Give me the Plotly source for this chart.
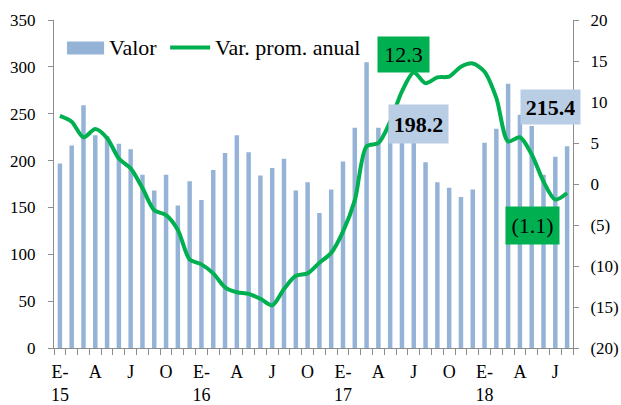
import plotly.graph_objects as go

months = ["ene", "feb", "mar", "abr", "may", "jun", "jul", "ago", "sep", "oct", "nov", "dic"]
years = ["15", "16", "17", "18"]
categories = [f"{m}-{y}" for y in years for m in months][:44]

tick_labels = {
    "ene-15": "E-<br>15", "abr-15": "A", "jul-15": "J", "oct-15": "O",
    "ene-16": "E-<br>16", "abr-16": "A", "jul-16": "J", "oct-16": "O",
    "ene-17": "E-<br>17", "abr-17": "A", "jul-17": "J", "oct-17": "O",
    "ene-18": "E-<br>18", "abr-18": "A", "jul-18": "J",
}

valor = [197, 216, 259, 227, 226, 218, 212, 185, 168, 185, 152, 178,
         158, 190, 208, 227, 209, 184, 192, 202, 168, 177, 144, 169,
         199, 235, 305, 235, 235, 236, 229, 198.2, 177, 171, 161, 169,
         219, 234, 282, 249, 237, 185, 204, 215.4]

var_prom_anual = [8.3, 7.6, 5.7, 6.7, 5.6, 3.1, 1.9, -0.5, -3.2, -3.8, -5.6, -9.2,
                  -9.8, -10.9, -12.6, -13.2, -13.4, -14.0, -14.8, -12.8, -11.2, -10.9, -9.6, -8.4,
                  -5.8, -2.0, 4.6, 5.0, 7.6, 11.3, 13.6, 12.3, 13.0, 13.1, 14.3, 14.7,
                  13.7, 10.5, 5.2, 5.7, 3.6, 0.3, -1.9, -1.1]

series_names = ["Valor", "Var. prom. anual"]

y2_ticks = [-20, -15, -10, -5, 0, 5, 10, 15, 20]
y2_text = [f"({abs(v)})" if v < 0 else str(v) for v in y2_ticks]

FONT = "Liberation Serif"
AXIS_COLOR = "#8C8C8C"
BAR_COLOR = "#95B3D7"
LINE_COLOR = "#00B050"
LABEL_BLUE = "#B9CDE5"

fig = go.Figure()
fig.add_trace(go.Bar(x=categories, y=valor, name=series_names[0], marker_color=BAR_COLOR,
                     marker_line_width=0))
fig.add_trace(go.Scatter(x=categories, y=var_prom_anual, name=series_names[1],
                         yaxis="y2", mode="lines",
                         line=dict(color=LINE_COLOR, width=4, shape="spline", smoothing=0.8)))

fig.update_layout(
    width=621, height=405,
    margin=dict(l=54, r=48, t=20, b=57, autoexpand=False),
    paper_bgcolor="white", plot_bgcolor="white",
    font=dict(family=FONT, size=18, color="#000000"),
    bargap=0.62,
    showlegend=False,
    xaxis=dict(type="category", categoryorder="array", categoryarray=categories,
               tickmode="array", tickvals=categories,
               ticktext=[tick_labels.get(c, "") for c in categories],
               tickson="boundaries", ticks="outside", ticklen=6, tickcolor=AXIS_COLOR,
               showline=True, linecolor=AXIS_COLOR, linewidth=1,
               showgrid=False, zeroline=False, tickangle=0, automargin=False,
               ticklabelstandoff=7,
               range=[-0.5, 43.5], tickfont=dict(size=18)),
    yaxis=dict(range=[0, 350], dtick=50, tick0=0, showgrid=False, zeroline=False,
               showline=True, linecolor=AXIS_COLOR, linewidth=1, automargin=False,
               ticks="outside", ticklen=5, tickcolor=AXIS_COLOR,
               ticklabelstandoff=9, tickfont=dict(size=17)),
    yaxis2=dict(range=[-20, 20], overlaying="y", side="right",
                tickmode="array", tickvals=y2_ticks, ticktext=y2_text,
                showgrid=False, zeroline=False, automargin=False,
                showline=True, linecolor=AXIS_COLOR, linewidth=1,
                ticks="outside", ticklen=5, tickcolor=AXIS_COLOR,
                ticklabelstandoff=8, tickfont=dict(size=17)),
)

# Legend drawn as shapes + text (Excel-style wide swatches)
fig.add_shape(type="rect", xref="paper", yref="paper", x0=0.025, x1=0.0965,
              y0=0.8946, y1=0.9343, fillcolor=BAR_COLOR, line_width=0)
fig.add_annotation(xref="paper", yref="paper", x=0.1022, y=0.916, xanchor="left",
                   yanchor="middle", text=series_names[0], showarrow=False,
                   font=dict(size=22, color="black"))
fig.add_shape(type="line", xref="paper", yref="paper", x0=0.2238, x1=0.3009,
              y0=0.916, y1=0.916, line=dict(color=LINE_COLOR, width=4))
fig.add_annotation(xref="paper", yref="paper", x=0.3067, y=0.916, xanchor="left",
                   yanchor="middle", text=series_names[1], showarrow=False,
                   font=dict(size=22, color="black"))

i_aug17 = categories.index("ago-17")
i_last = len(categories) - 1

fig.add_annotation(x=categories[i_aug17], y=var_prom_anual[i_aug17], xref="x", yref="y2",
                   text=f"{var_prom_anual[i_aug17]:.1f}", showarrow=False,
                   xshift=-22, yshift=29, bgcolor=LINE_COLOR, borderpad=5,
                   width=41, height=25,
                   font=dict(size=22, color="black"))
fig.add_annotation(x=categories[i_aug17], y=valor[i_aug17], xref="x", yref="y",
                   text=f"<b>{valor[i_aug17]:.1f}</b>", showarrow=False,
                   xshift=-7, yshift=38, bgcolor=LABEL_BLUE, borderpad=5,
                   width=49, height=28,
                   font=dict(size=22, color="black"))
fig.add_annotation(x=categories[i_last], y=valor[i_last], xref="x", yref="y",
                   text=f"<b>{valor[i_last]:.1f}</b>", showarrow=False,
                   xshift=-17, yshift=39, bgcolor=LABEL_BLUE, borderpad=5,
                   width=49, height=24,
                   font=dict(size=22, color="black"))
v = var_prom_anual[i_last]
fig.add_annotation(x=categories[i_last], y=v, xref="x", yref="y2",
                   text=f"({abs(v):.1f})" if v < 0 else f"{v:.1f}", showarrow=False,
                   xshift=-35, yshift=-32, bgcolor=LINE_COLOR, borderpad=5,
                   width=43, height=27,
                   font=dict(size=22, color="black"))

fig.write_html("out.html", config={"displayModeBar": False},
               post_script="document.body.style.margin='0';document.body.style.overflow='hidden';")
